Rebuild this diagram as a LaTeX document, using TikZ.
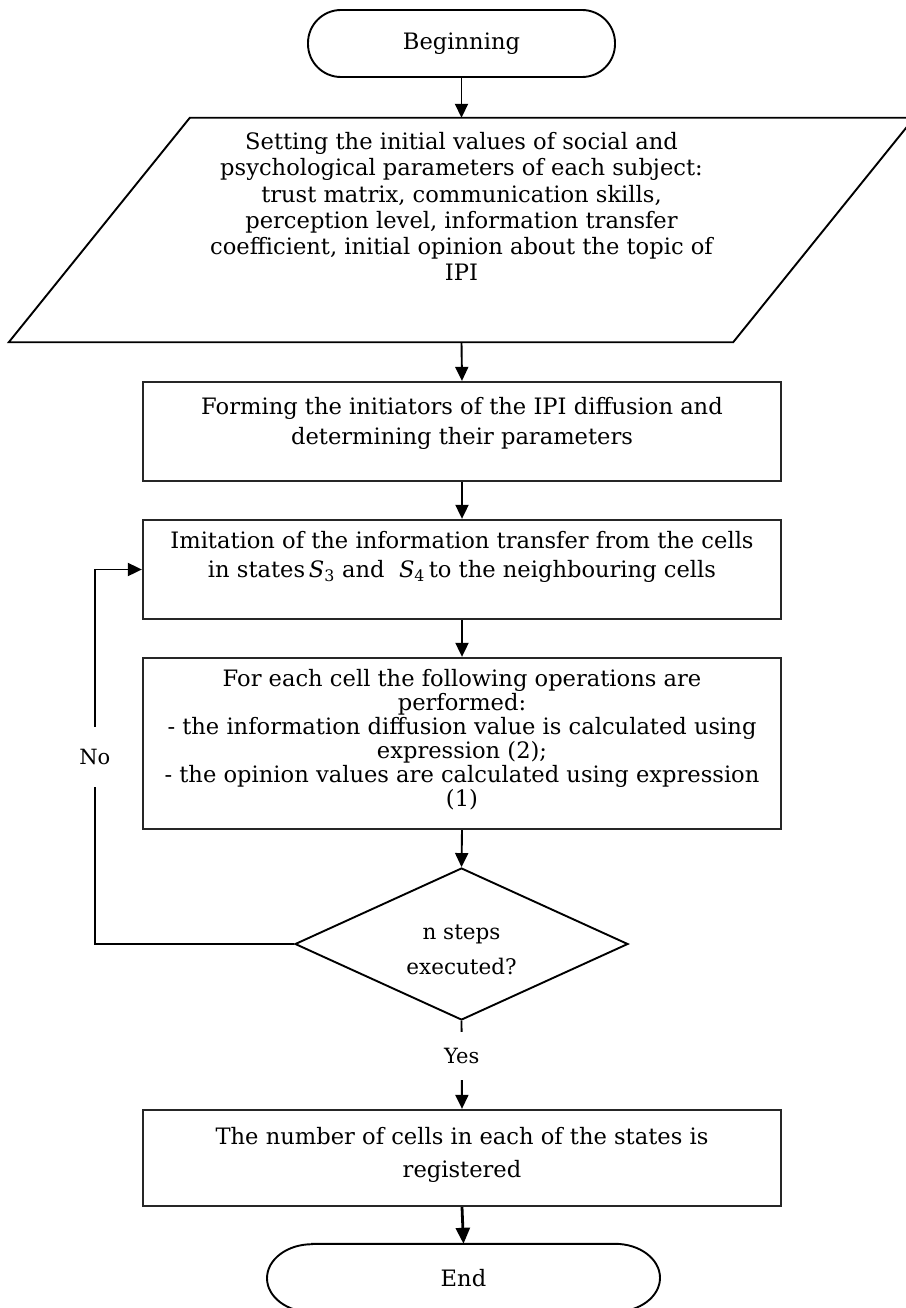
\documentclass[tikz,border=0pt]{standalone}
\usepackage{fontspec}
\setmainfont{DejaVu Serif}
\usetikzlibrary{arrows.meta,shapes.geometric}

% text block of fixed size, set from the top: height, width, top gap, line pitch, text
\newcommand\flowtext[5]{\parbox[c][#1][t]{#2}{\fontsize{22.6pt}{#4}\selectfont\centering\vspace*{#3}\rule{0pt}{17.5pt}#5}}

\tikzset{
  mainfont/.style={font=\fontsize{22.6pt}{27pt}\selectfont},
  shapeline/.style={draw=black, line width=1.9pt},
  procbox/.style={draw=black!85, line width=2.3pt, inner sep=0pt, minimum width=638pt},
  flowarrow/.style={line width=1.9pt, -{Triangle[length=14pt,width=13pt]}},
  branchtag/.style={fill=white, inner xsep=3pt, inner ysep=0pt, font=\fontsize{21pt}{25pt}\selectfont},
}

\begin{document}
\begin{tikzpicture}[x=1pt,y=-1pt]
\useasboundingbox (0,0) rectangle (905,1308);

% start terminal
\node[shapeline, mainfont, rounded corners=33pt, inner sep=0pt,
      minimum width=307pt, minimum height=67pt] (begin) at (461.5,43.5) {Beginning};

% input data (parallelogram)
\node[inner sep=0pt, minimum width=905pt, minimum height=224pt] (input) at (461.5,230)
  {\flowtext{224pt}{620pt}{14.5pt}{26pt}{Setting the initial values of social and\\
   psychological parameters of each subject:\\
   trust matrix, communication skills,\\
   perception level, information transfer\\
   coefficient, initial opinion about the topic of\\
   IPI}};
\draw[shapeline] (input.south west) -- ([xshift=181pt]input.north west)
  -- (input.north east) -- ([xshift=-181pt]input.south east) -- cycle;

% process steps
\node[procbox] (initiators) at (462,431.5)
  {\flowtext{99pt}{636pt}{14.5pt}{30pt}{Forming the initiators of the IPI diffusion and\\
   determining their parameters}};

\node[procbox] (transfer) at (462,569.5)
  {\flowtext{99pt}{636pt}{10.5pt}{29pt}{Imitation of the information transfer from the cells\\
   in states\,\textit{S}\textsubscript{3} and \ \textit{S}\textsubscript{4}\,to the neighbouring cells}};

\node[procbox] (update) at (462,743.5)
  {\flowtext{171pt}{636pt}{10.5pt}{24pt}{For each cell the following operations are\\
   performed:\\
   - the information diffusion value is calculated using\\
   expression (2);\\
   - the opinion values are calculated using expression\\
   (1)}};

% loop condition
\node[diamond, draw=black, line width=1.9pt, inner sep=0pt, aspect=2.2,
      minimum width=333pt, minimum height=152pt] (check) at (461.5,944)
  {\parbox[c][60pt][t]{140pt}{\fontsize{21.5pt}{35pt}\selectfont\centering\vspace*{7.5pt}\rule{0pt}{17.5pt}n steps\\ executed?}};

\node[procbox] (result) at (462,1158)
  {\flowtext{96pt}{636pt}{16.5pt}{33pt}{The number of cells in each of the states is\\
   registered}};

% end terminal with elliptic caps
\node[mainfont, inner sep=0pt, minimum width=393pt, minimum height=68pt] (finish) at (463.5,1278) {End};
\draw[shapeline] ([xshift=-151.5pt]finish.north) -- ([xshift=151.5pt]finish.north)
  arc[start angle=90, end angle=-90, x radius=45pt, y radius=34pt]
  -- ([xshift=-151.5pt]finish.south)
  arc[start angle=270, end angle=90, x radius=45pt, y radius=34pt] -- cycle;

% connectors
\draw[flowarrow] (begin.south) -- (input.north);
\draw[flowarrow] (input.south) -- (initiators.north);
\draw[flowarrow] (initiators.south) -- (transfer.north);
\draw[flowarrow] (transfer.south) -- (update.north);
\draw[flowarrow] (update.south) -- (check.north);
\draw[flowarrow] (check.west) -| node[branchtag, pos=0.75, minimum height=60pt] {No}
  ([xshift=-47pt]transfer.west) -- (transfer.west);
\draw[flowarrow] (check.south) -- node[branchtag, pos=0.4, minimum height=48pt] {Yes} (result.north);
\draw[line width=2.8pt, -{Triangle[length=16pt,width=14pt]}] (result.south) -- (finish.north);

\end{tikzpicture}
\end{document}
